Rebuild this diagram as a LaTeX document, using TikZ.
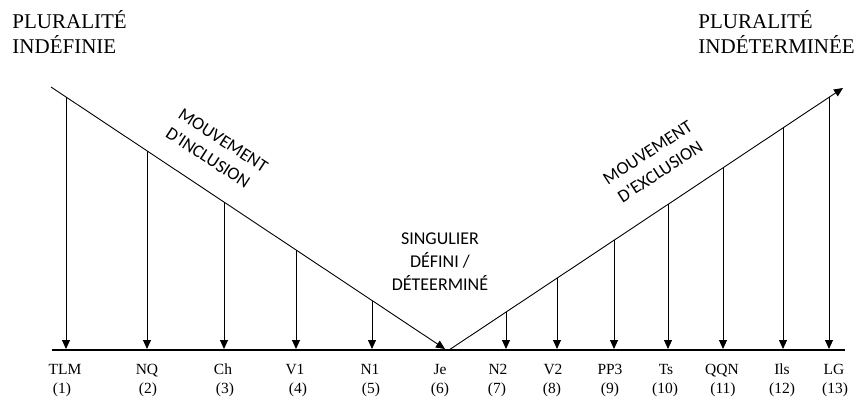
\documentclass[tikz,border=0pt]{standalone}
\usepackage{fontspec}
\setmainfont{Liberation Serif}
\newfontfamily\calib{Carlito}
\usetikzlibrary{arrows.meta}
\begin{document}
\begin{tikzpicture}[x=1pt,y=-1pt, line width=0.9pt,
  >={Triangle[width=8pt,length=9pt]},
  title/.style={anchor=base west, align=left, inner sep=0pt, font=\fontsize{21}{25}\selectfont},
  mid/.style={inner sep=0pt, font=\calib\fontsize{18}{23}\selectfont},
  lab/.style={anchor=base, inner sep=0pt, font=\fontsize{15.5}{19}\selectfont}]
\useasboundingbox (0,0) rectangle (863,402);
% titles (base anchor = last line)
\node[title] (tl) at (12,53) {PLURALITÉ\\INDÉFINIE};
\node[title] (tr) at (698,53) {PLURALITÉ\\INDÉTERMINÉE};
% baseline
\coordinate (bl) at (52,350);
\coordinate (br) at (845,350);
\draw[line width=1.1pt] (bl) -- (br);
% diagonals
\coordinate (A) at (51,87);
\coordinate (J) at (445,349);
\coordinate (J2) at (449,350);
\coordinate (B) at (843,88);
\draw[->] (A) -- (J);
\draw[->] (J2) -- (B);
% vertical arrows
\foreach \i/\x/\y in {1/66/97.0, 2/147/150.9, 3/224/202.2, 4/296/250.1, 5/372/300.7,
  7/506/312.1, 8/557/278.2, 9/614/240.3, 10/668/204.4, 11/723/167.8, 12/783/127.9, 13/829/97.3}{
  \coordinate (t\i) at (\x,\y);
  \draw[->] (t\i) -- (t\i |- J);
}
% labels
\foreach \i/\x/\nx/\t in {1/65/62/TLM, 2/147/148/NQ, 3/223/225/Ch, 4/295/298/V1, 5/370/371/N1,
  6/440/440/Je, 7/498/497/N2, 8/553/552/V2, 9/610/610/PP3, 10/666/665/Ts, 11/722/723/QQN,
  12/782/782/Ils, 13/834/835/LG}{
  \node[lab] (l\i) at (\x,374) {\t};
  \node[lab] (n\i) at (\nx,393) {(\i)};
}
% middle texts
\node[mid, align=left, rotate=-33] (inc) at (217,150) {MOUVEMENT\\D'INCLUSION};
\node[mid, align=center, rotate=33] (exc) at (654,162) {MOUVEMENT\\D'EXCLUSION};
\node[mid, align=center] (sing) at (440,262) {SINGULIER\\DÉFINI /\\DÉTEERMINÉ};
\end{tikzpicture}
\end{document}
